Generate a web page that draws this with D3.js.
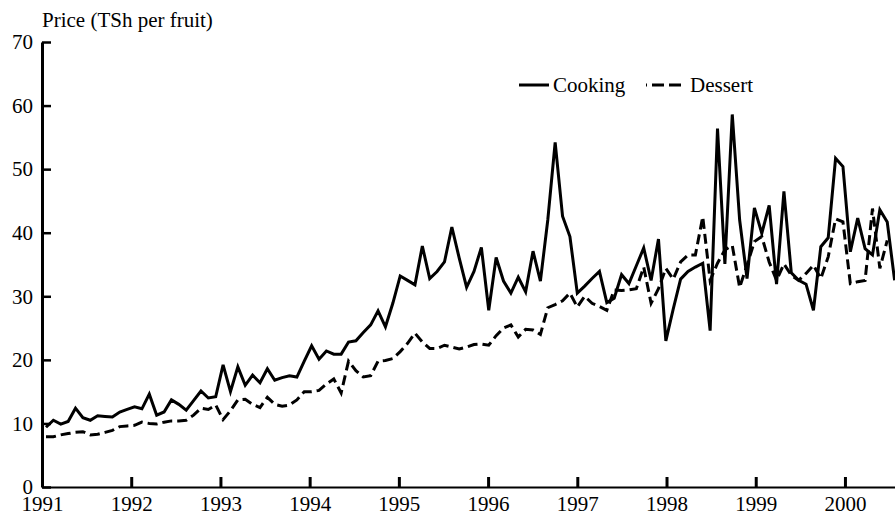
<!DOCTYPE html>
<html lang="en">
<head>
<meta charset="utf-8">
<title>Banana prices</title>
<script src="https://d3js.org/d3.v7.min.js"></script>
<style>
  body { margin: 0; background: #fff; }
  text { font-family: "Liberation Serif", "Times New Roman", serif; fill: #000; }
</style>
</head>
<body>
<script>
// monthly prices, Jan 1991 onwards (TSh per fruit)
var cooking = [
  9.4, 10.5, 9.9, 10.3, 12.4, 10.9, 10.5, 11.2, 11.1, 11.0, 11.8, 12.2,
  12.6, 12.3, 14.6, 11.3, 11.8, 13.7, 13.0, 12.1, 13.6, 15.1, 14.0, 14.2,
  19.2, 15.0, 18.9, 16.0, 17.6, 16.4, 18.6, 16.8, 17.2, 17.5, 17.3, 19.8,
  22.2, 20.1, 21.4, 20.9, 20.9, 22.8, 23.0, 24.3, 25.5, 27.7, 25.2, 28.9,
  33.2, 32.5, 31.8, 37.9, 32.8, 33.9, 35.4, 40.9, 36.0, 31.4, 33.9, 37.7,
  27.8, 36.1, 32.4, 30.5, 33.0, 30.7, 37.1, 32.4, 42.0, 54.2, 42.6, 39.4,
  30.5, 31.6, 32.8, 33.9, 29.0, 29.7, 33.4, 32.0, 34.8, 37.6, 32.5, 39.0,
  23.0, 28.0, 32.7, 33.9, 34.6, 35.2, 24.6, 56.4, 35.1, 58.6, 42.0, 32.8,
  43.9, 39.9, 44.3, 31.9, 46.5, 33.7, 32.5, 31.9, 27.8, 37.8, 39.2, 51.7,
  50.4, 37.0, 42.3, 37.5, 36.5, 43.6, 41.7, 32.5
];
var dessert = [
  7.9, 7.9, 8.2, 8.4, 8.6, 8.7, 8.2, 8.3, 8.6, 8.9, 9.5, 9.6,
  9.7, 10.2, 10.0, 9.9, 10.2, 10.4, 10.4, 10.5, 11.3, 12.4, 12.2, 12.9,
  10.6, 12.0, 13.7, 13.8, 13.0, 12.5, 14.1, 13.0, 12.7, 12.9, 13.7, 15.0,
  15.0, 15.2, 16.2, 17.0, 14.8, 19.8, 18.3, 17.3, 17.5, 19.8, 19.9, 20.2,
  21.3, 22.6, 24.2, 22.8, 21.8, 21.8, 22.3, 22.0, 21.7, 22.0, 22.4, 22.5,
  22.3, 23.8, 25.0, 25.5, 23.6, 24.8, 24.7, 24.0, 28.2, 28.7, 29.3, 30.5,
  28.3, 30.0, 28.9, 28.4, 27.8, 31.0, 30.9, 31.0, 31.2, 34.6, 28.9, 31.2,
  34.4, 32.7, 35.4, 36.5, 36.5, 42.5, 32.5, 35.2, 37.3, 38.0, 31.4, 34.9,
  38.6, 39.4, 35.4, 32.5, 35.1, 33.3, 32.5, 33.6, 34.9, 32.8, 36.2, 42.2,
  41.7, 32.0, 32.3, 32.5, 43.8, 34.4, 38.8
];
var yearTicks = [1991, 1992, 1993, 1994, 1995, 1996, 1997, 1998, 1999, 2000];
var priceTicks = [0, 10, 20, 30, 40, 50, 60, 70];
var seriesNames = ["Cooking", "Dessert"];

var w = 895, h = 517;
var plotLeft = 42, plotRight = 895, plotTop = 42, plotBottom = 487;

// decimal year of each monthly observation
function monthDate(i) { return 1991 + (i + 0.54) / 12.09; }

var x = d3.scaleLinear().domain([1991, 2000.561]).range([plotLeft, plotRight]);
var y = d3.scaleLinear().domain([0, 70]).range([plotBottom, plotTop]);

var svg = d3.select("body").append("svg").attr("width", w).attr("height", h);

// title
svg.append("text").attr("x", 42).attr("y", 27)
  .style("font-size", "21px").text("Price (TSh per fruit)");

// axes
var xAxis = d3.axisBottom(x).tickValues(yearTicks).tickFormat(d3.format("d"))
  .tickSizeInner(-10).tickSizeOuter(0).tickPadding(9);
var yAxis = d3.axisLeft(y).tickValues(priceTicks)
  .tickSizeInner(-9).tickSizeOuter(0).tickPadding(9);

var gx = svg.append("g").attr("transform", "translate(0," + plotBottom + ")").call(xAxis);
var gy = svg.append("g").attr("transform", "translate(" + plotLeft + ",0)").call(yAxis);

gx.select(".domain").attr("stroke", "#000").attr("stroke-width", 2);
gx.selectAll(".tick line").attr("stroke", "#000").attr("stroke-width", 3);
gx.selectAll(".tick text").style("font-size", "21px").attr("font-family", null);
gy.select(".domain").attr("stroke", "#000").attr("stroke-width", 3);
gy.selectAll(".tick line").attr("stroke", "#000").attr("stroke-width", 2.5);
gy.selectAll(".tick text").style("font-size", "21px").attr("font-family", null);
svg.selectAll(".tick text").attr("fill", "#000");

// lines
var line = d3.line()
  .x(function(d, i) { return x(monthDate(i)); })
  .y(function(d) { return y(d); });

svg.append("path").datum(dessert)
  .attr("fill", "none").attr("stroke", "#000").attr("stroke-width", 3)
  .attr("stroke-dasharray", "10,5").attr("d", line);

svg.append("path").datum(cooking)
  .attr("fill", "none").attr("stroke", "#000").attr("stroke-width", 3)
  .attr("stroke-linejoin", "miter").attr("d", line);

// legend
var legend = svg.append("g");
legend.append("line").attr("x1", 519).attr("x2", 549).attr("y1", 85).attr("y2", 85)
  .attr("stroke", "#000").attr("stroke-width", 3);
legend.append("text").attr("x", 553).attr("y", 91.5).style("font-size", "21px").text(seriesNames[0]);
legend.append("line").attr("x1", 646).attr("x2", 682).attr("y1", 85).attr("y2", 85)
  .attr("stroke", "#000").attr("stroke-width", 3)
  .attr("stroke-dasharray", "12,5").attr("stroke-dashoffset", 11);
legend.append("text").attr("x", 690).attr("y", 91.5).style("font-size", "21px").text(seriesNames[1]);
</script>
</body>
</html>
